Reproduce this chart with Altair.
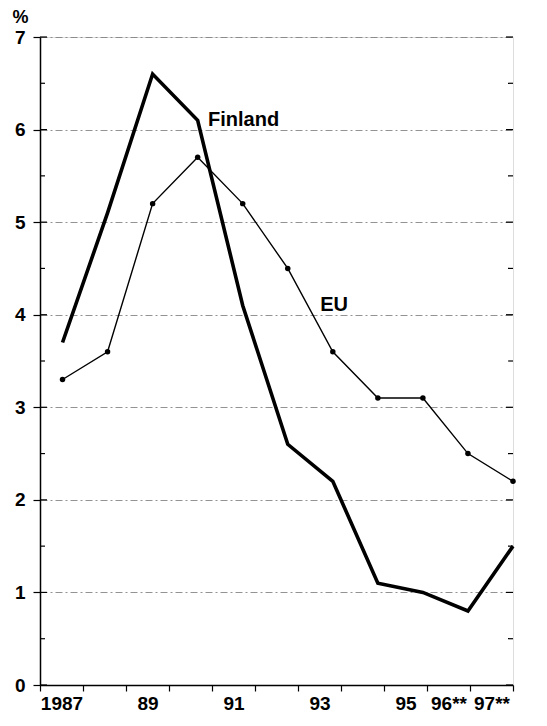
import altair as alt
import pandas as pd

years = [1987, 1988, 1989, 1990, 1991, 1992, 1993, 1994, 1995, 1996, 1997]
finland = [3.7, 5.1, 6.6, 6.1, 4.1, 2.6, 2.2, 1.1, 1.0, 0.8, 1.5]
eu = [3.3, 3.6, 5.2, 5.7, 5.2, 4.5, 3.6, 3.1, 3.1, 2.5, 2.2]
tick_labels = ["1987", "", "89", "", "91", "", "93", "", "95", "96**", "97**"]
y_major = [0, 1, 2, 3, 4, 5, 6, 7]
y_minor = [0.5, 1.5, 2.5, 3.5, 4.5, 5.5, 6.5]
annotations = pd.DataFrame({"x": [1990.23, 1992.72], "y": [6.04, 4.04], "t": ["Finland", "EU"]})

W, H = 473, 648
FONT = "Liberation Sans"

fin_df = pd.DataFrame({"year": years, "v": finland})
eu_df = pd.DataFrame({"year": years, "v": eu})
cat_df = pd.DataFrame({"cat": [str(y) for y in years]})

xs = alt.Scale(domain=[1986.5, 1997], nice=False, zero=False)
ys = alt.Scale(domain=[0, 7], nice=False)

yaxis = alt.Axis(values=y_major, format="d", tickSize=7, labelFontSize=19, labelFontWeight="bold",
                 labelFont=FONT, labelColor="black", labelPadding=8, domainColor="black",
                 tickColor="black", domainWidth=1.5, tickWidth=1.2,
                 grid=True, gridColor="#777777", gridDash=[7, 3, 2, 3], gridWidth=0.8,
                 title="%", titleAngle=0, titleFontSize=18, titleFontWeight="bold",
                 titleFont=FONT, titleColor="black", titleX=-20, titleY=-15,
                 titleAlign="center", titleBaseline="alphabetic")

fin_line = alt.Chart(fin_df).mark_line(color="black", strokeWidth=3.6, strokeJoin="miter").encode(
    x=alt.X("year:Q", scale=xs, axis=None),
    y=alt.Y("v:Q", scale=ys, axis=yaxis),
)
eu_line = alt.Chart(eu_df).mark_line(color="black", strokeWidth=1.4).encode(
    x=alt.X("year:Q", scale=xs, axis=None),
    y=alt.Y("v:Q", scale=ys),
)
eu_pts = alt.Chart(eu_df).mark_circle(color="black", size=30, opacity=1).encode(
    x=alt.X("year:Q", scale=xs, axis=None),
    y=alt.Y("v:Q", scale=ys),
)
labels = alt.Chart(annotations).mark_text(font=FONT, fontSize=20, fontWeight="bold",
                                          align="left", baseline="alphabetic", color="black").encode(
    x=alt.X("x:Q", scale=xs, axis=None),
    y=alt.Y("y:Q", scale=ys),
    text="t:N",
)

minor_df = pd.DataFrame({"v": y_minor})
major_df = pd.DataFrame({"v": y_major})
minor_l = alt.Chart(minor_df).mark_rule(color="black", strokeWidth=1.2).encode(
    y=alt.Y("v:Q", scale=ys), x=alt.value(0), x2=alt.value(5))
minor_r = alt.Chart(minor_df).mark_rule(color="black", strokeWidth=1.2).encode(
    y=alt.Y("v:Q", scale=ys), x=alt.value(W - 5), x2=alt.value(W))
major_l = alt.Chart(major_df).mark_rule(color="black", strokeWidth=1.2).encode(
    y=alt.Y("v:Q", scale=ys), x=alt.value(0), x2=alt.value(7))
major_r = alt.Chart(major_df).mark_rule(color="black", strokeWidth=1.2).encode(
    y=alt.Y("v:Q", scale=ys), x=alt.value(W - 7), x2=alt.value(W))

expr = "''"
for y, t in zip(reversed(years), reversed(tick_labels)):
    expr = f"datum.value == '{y}' ? '{t}' : ({expr})"

cat_layer = alt.Chart(cat_df).mark_bar(opacity=0).encode(
    x=alt.X("cat:O", scale=alt.Scale(type="band", domain=[str(y) for y in years],
                                     paddingInner=0, paddingOuter=0),
            axis=alt.Axis(tickBand="extent", labelExpr=expr, labelAngle=0, title=None,
                          labelFontSize=19, labelFontWeight="bold", labelFont=FONT,
                          labelColor="black", labelPadding=3, tickSize=6, tickColor="black",
                          tickWidth=1.2, domainColor="black", domainWidth=1.5)),
    y=alt.value(0), y2=alt.value(0),
)

chart = alt.layer(
    fin_line, eu_line, eu_pts, labels, minor_l, minor_r, major_l, major_r, cat_layer
).resolve_scale(x="independent").properties(
    width=W, height=H,
    autosize=alt.AutoSizeParams(type="none"),
    padding={"left": 32, "top": 29, "right": 26, "bottom": 33},
).configure_view(stroke="black", strokeWidth=1.5).configure(background="white")

chart.save("out.html", embed_options={"renderer": "svg", "actions": False})
